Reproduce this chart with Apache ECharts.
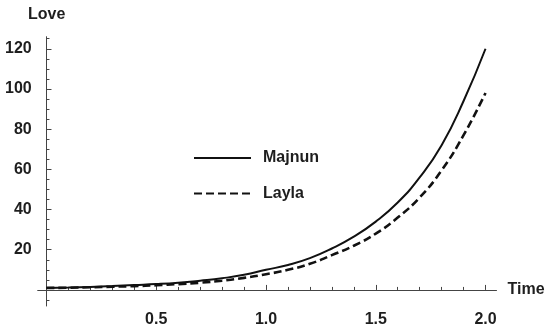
<!DOCTYPE html>
<html>
<head>
<meta charset="utf-8">
<script src="https://cdn.jsdelivr.net/npm/echarts@6/dist/echarts.min.js"></script>
<style>
html,body{margin:0;padding:0;background:#fff;}
#c{width:555px;height:328px;}
</style>
</head>
<body>
<div id="c"></div>
<script>
var times = [0, 0.1, 0.2, 0.3, 0.4, 0.5, 0.6, 0.7, 0.8, 0.9, 1.0, 1.1, 1.2, 1.3, 1.4, 1.5, 1.6, 1.7, 1.8, 1.9, 2.0];
var majnun = [1.0, 1.2, 1.5, 1.9, 2.4, 2.9, 3.6, 4.6, 5.8, 7.5, 10.0, 12.4, 15.8, 20.6, 26.5, 34, 43.5, 56, 72, 94, 120];
var layla  = [1.0, 1.1, 1.3, 1.6, 1.9, 2.3, 2.9, 3.6, 4.6, 6.0, 7.8, 10.0, 13.0, 17.3, 22, 28, 36, 46, 59.5, 77, 98];
var xLabels = [0.5, 1.0, 1.5, 2.0];
var yLabels = [20, 40, 60, 80, 100, 120];
var xMinorTicks = [0.1,0.2,0.3,0.4,0.6,0.7,0.8,0.9,1.1,1.2,1.3,1.4,1.6,1.7,1.8,1.9];
var yMinorTicks = [-5,5,10,15,25,30,35,45,50,55,65,70,75,85,90,95,105,110,115,125];

function pairs(xs, ys){ return xs.map(function(x,i){ return [x, ys[i]]; }); }

var FONT = 'Liberation Sans';
var TXT = '#1e1e1e';
var FS = 16;
var chart = echarts.init(document.getElementById('c'), null, {renderer:'canvas'});
var xMin = -0.04, xMax = 2.05, yMin = -8, yMax = 126;
var axisLineStyle = {color:'#444', width:1};

chart.setOption({
  animation:false,
  backgroundColor:'#fff',
  title:{
    text:'Love', left:28, top:7, padding:0,
    textStyle:{fontFamily:FONT, fontWeight:'bold', fontSize:FS, color:TXT}
  },
  grid:{left:37.7, right:58.5, top:36.7, bottom:10.5, containLabel:false},
  legend:{
    orient:'vertical', left:193, top:150, padding:0, itemWidth:57, itemHeight:14, itemGap:19.5,
    itemStyle:{opacity:0},
    textStyle:{fontFamily:FONT, fontWeight:'bold', fontSize:FS, color:TXT, padding:[0,0,0,7]},
    data:['Majnun','Layla']
  },
  xAxis:[{
    type:'value', min:xMin, max:xMax,
    axisLine:{show:true, onZero:true, lineStyle:axisLineStyle},
    axisTick:{show:true, inside:true, length:5, customValues:xLabels, lineStyle:axisLineStyle},
    axisLabel:{show:true, customValues:xLabels, margin:6, fontFamily:FONT, fontWeight:'bold', fontSize:FS, color:TXT,
      formatter:function(v){ return v.toFixed(1); }},
    splitLine:{show:false},
    name:'Time', nameLocation:'end', nameGap:11,
    nameTextStyle:{fontFamily:FONT, fontWeight:'bold', fontSize:FS, color:TXT, verticalAlign:'middle'}
  },{
    type:'value', min:xMin, max:xMax, position:'bottom',
    axisLine:{show:false, onZero:true},
    axisTick:{show:true, inside:true, length:3, customValues:xMinorTicks, lineStyle:axisLineStyle},
    axisLabel:{show:false}, splitLine:{show:false}
  }],
  yAxis:[{
    type:'value', min:yMin, max:yMax,
    axisLine:{show:true, onZero:true, lineStyle:axisLineStyle},
    axisTick:{show:true, inside:true, length:5, customValues:yLabels, lineStyle:axisLineStyle},
    axisLabel:{show:true, customValues:yLabels, margin:6, fontFamily:FONT, fontWeight:'bold', fontSize:FS, color:TXT},
    splitLine:{show:false}
  },{
    type:'value', min:yMin, max:yMax, position:'left',
    axisLine:{show:false, onZero:true},
    axisTick:{show:true, inside:true, length:3, customValues:yMinorTicks, lineStyle:axisLineStyle},
    axisLabel:{show:false}, splitLine:{show:false}
  }],
  series:[{
    name:'Majnun', type:'line', smooth:true, symbol:'none', xAxisIndex:0, yAxisIndex:0,
    data:pairs(times, majnun),
    lineStyle:{color:'#111', width:2, type:'solid'},
    itemStyle:{color:'#111'}
  },{
    name:'Layla', type:'line', smooth:true, symbol:'none', xAxisIndex:0, yAxisIndex:0,
    data:pairs(times, layla),
    lineStyle:{color:'#111', width:2.6, type:[8,4]},
    itemStyle:{color:'#111'}
  }]
});
</script>
</body>
</html>
